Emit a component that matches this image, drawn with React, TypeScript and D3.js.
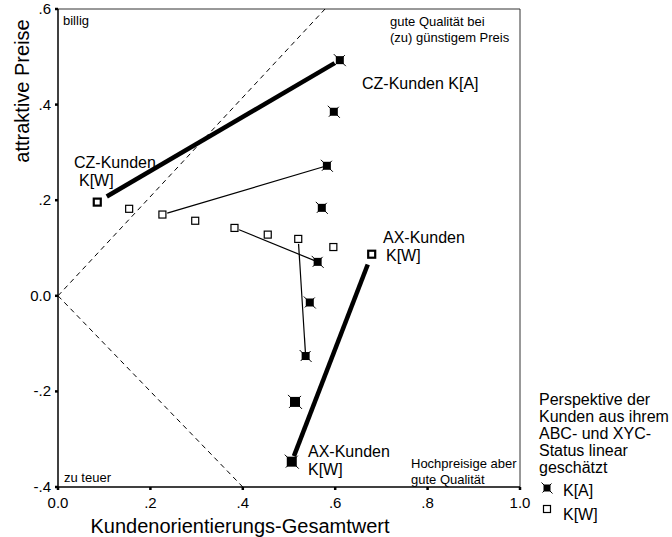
import React from "react";
import * as d3 from "d3";

// K[W] markers (open squares)
const kWx = [0.085, 0.154, 0.226, 0.297, 0.382, 0.454, 0.520, 0.596, 0.679];
const kWy = [0.196, 0.182, 0.170, 0.157, 0.142, 0.128, 0.119, 0.102, 0.087];
// K[A] markers (filled squares)
const kAx = [0.610, 0.597, 0.582, 0.571, 0.562, 0.545, 0.536, 0.513, 0.506];
const kAy = [0.493, 0.385, 0.272, 0.184, 0.071, -0.014, -0.126, -0.222, -0.347];
// connecting lines between K[W] and K[A] of the same pair
const linkPairs = [0, 2, 4, 6, 8];
const thickPairs = [0, 8];
const boldOpen = [0, 8];

const xTicks = [0, 0.2, 0.4, 0.6, 0.8, 1.0];
const xTickLabels = ["0.0", ".2", ".4", ".6", ".8", "1.0"];
const yTicks = [-0.4, -0.2, 0, 0.2, 0.4, 0.6];
const yTickLabels = ["-.4", "-.2", "0.0", ".2", ".4", ".6"];

// dashed reference lines (data coordinates)
const refUpper = [[0, 0], [0.578, 0.6]];
const refLower = [[0, 0], [0.4, -0.4]];

const legendLines = ["Perspektive der", "Kunden aus ihrem", "ABC- und XYC-", "Status linear", "geschätzt"];

const FONT = "'Liberation Sans', Arial, Helvetica, sans-serif";

const L = 58, R = 520, T = 9, B = 487;

function FilledMarker({ x, y, s = 8 }: { x: number; y: number; s?: number }) {
  const h = s / 2;
  return (
    <g>
      <rect x={x - h} y={y - h} width={s} height={s} fill="#000" />
      <line x1={x - h - 2} y1={y - h - 2} x2={x + h + 2} y2={y + h + 2} stroke="#000" strokeWidth={1} />
      <line x1={x + h + 1} y1={y - h - 1} x2={x - h - 1} y2={y + h + 1} stroke="#000" strokeWidth={1} />
    </g>
  );
}

function OpenMarker({ x, y, bold }: { x: number; y: number; bold?: boolean }) {
  const s = 7;
  return (
    <rect x={x - s / 2} y={y - s / 2} width={s} height={s} fill="#fff" stroke="#000" strokeWidth={bold ? 2.2 : 1.2} />
  );
}

export default function App() {
  const x = d3.scaleLinear().domain([0, 1]).range([L, R]);
  const y = d3.scaleLinear().domain([-0.4, 0.6]).range([B, T]);

  const links = linkPairs.map((i) => {
    const thick = thickPairs.includes(i);
    const x1 = x(kWx[i]), y1 = y(kWy[i]), x2 = x(kAx[i]), y2 = y(kAy[i]);
    const dx = x2 - x1, dy = y2 - y1;
    const len = Math.hypot(dx, dy);
    const g1 = thick ? 11 : 5;
    const g2 = thick ? 6 : 0;
    return {
      i, thick,
      x1: x1 + (dx / len) * g1, y1: y1 + (dy / len) * g1,
      x2: x2 - (dx / len) * g2, y2: y2 - (dy / len) * g2,
    };
  });

  const line = d3.line<number[]>().x((d) => x(d[0])).y((d) => y(d[1]));

  return (
    <div style={{ position: "absolute", left: 0, top: 0 }}>
      <svg width={672} height={537} style={{ display: "block", background: "#fff" }} fontFamily={FONT}>
        {/* frame */}
        <line x1={L} y1={T} x2={R} y2={T} stroke="#333" strokeWidth={1} />
        <line x1={R} y1={T} x2={R} y2={B} stroke="#333" strokeWidth={1} />
        <line x1={L} y1={T} x2={L} y2={B} stroke="#000" strokeWidth={1.5} />
        <line x1={L} y1={B} x2={R} y2={B} stroke="#000" strokeWidth={1.5} />

        {/* ticks */}
        {xTicks.map((t, k) => (
          <g key={"xt" + k}>
            <line x1={x(t)} y1={B} x2={x(t)} y2={B + 3} stroke="#000" strokeWidth={2.5} />
            <text x={x(t)} y={508} fontSize={15} textAnchor="middle">{xTickLabels[k]}</text>
          </g>
        ))}
        {yTicks.map((t, k) => (
          <g key={"yt" + k}>
            <line x1={L - 3} y1={y(t)} x2={L} y2={y(t)} stroke="#000" strokeWidth={2.5} />
            <text x={51} y={y(t) + 5} fontSize={15} textAnchor="end">{yTickLabels[k]}</text>
          </g>
        ))}

        {/* dashed reference lines */}
        <path d={line(refUpper) || ""} stroke="#000" strokeWidth={1} strokeDasharray="5,4" fill="none" />
        <path d={line(refLower) || ""} stroke="#000" strokeWidth={1} strokeDasharray="5,4" fill="none" />

        {/* connecting lines */}
        {links.map((l) => (
          <line key={"ln" + l.i} x1={l.x1} y1={l.y1} x2={l.x2} y2={l.y2} stroke="#000" strokeWidth={l.thick ? 4.5 : 1.2} />
        ))}

        {/* markers */}
        {kWx.map((v, i) => (
          <OpenMarker key={"w" + i} x={x(v)} y={y(kWy[i])} bold={boldOpen.includes(i)} />
        ))}
        {kAx.map((v, i) => (
          <FilledMarker key={"a" + i} x={x(v)} y={y(kAy[i])} s={i >= 7 ? 10 : 8} />
        ))}

        {/* corner annotations */}
        <text x={63} y={25} fontSize={13}>billig</text>
        <text x={390} y={26} fontSize={13}>gute Qualität bei</text>
        <text x={390} y={42} fontSize={13}>(zu) günstigem Preis</text>
        <text x={64} y={482} fontSize={13}>zu teuer</text>
        <text x={411} y={468} fontSize={13}>Hochpreisige aber</text>
        <text x={411} y={484} fontSize={13}>gute Qualität</text>

        {/* group labels */}
        <text x={362} y={89} fontSize={16}>CZ-Kunden K[A]</text>
        <text x={74} y={168} fontSize={16}>CZ-Kunden</text>
        <text x={79} y={186} fontSize={16}>K[W]</text>
        <text x={383} y={243} fontSize={16}>AX-Kunden</text>
        <text x={386} y={261} fontSize={16}>K[W]</text>
        <text x={308} y={457} fontSize={16}>AX-Kunden</text>
        <text x={308} y={475} fontSize={16}>K[W]</text>

        {/* axis titles */}
        <text x={240} y={533} fontSize={20} textAnchor="middle">Kundenorientierungs-Gesamtwert</text>
        <text transform="translate(29,91) rotate(-90)" fontSize={20} textAnchor="middle">attraktive Preise</text>

        {/* legend */}
        {legendLines.map((s, k) => (
          <text key={"lg" + k} x={539} y={405 + k * 17} fontSize={16}>{s}</text>
        ))}
        <FilledMarker x={547} y={488} s={7} />
        <text x={563} y={496} fontSize={16}>K[A]</text>
        <OpenMarker x={547} y={509} />
        <text x={563} y={520} fontSize={16}>K[W]</text>
      </svg>
    </div>
  );
}
